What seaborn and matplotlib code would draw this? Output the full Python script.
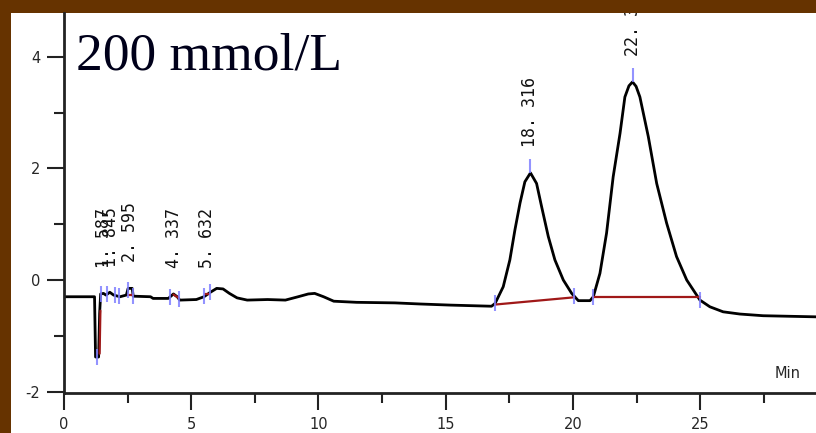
import numpy as np
import matplotlib
matplotlib.use('Agg')
import matplotlib.pyplot as plt
from matplotlib.patches import Rectangle
from matplotlib.path import Path
from matplotlib.ticker import MultipleLocator
import seaborn as sns

# --- Data ---
time = [0.00, 1.20, 1.24, 1.36, 1.40, 1.44, 1.55, 1.65, 1.80, 1.95, 2.20, 2.45, 2.52, 2.68,
        2.72, 3.40, 3.50, 4.10, 4.30, 4.45, 4.55, 5.20, 5.50, 5.75, 6.00, 6.25, 6.50, 6.80,
        7.20, 8.00, 8.70, 9.20, 9.60, 9.85, 10.20, 10.60, 11.50, 13.00, 14.00, 15.20, 16.80,
        16.94, 17.26, 17.52, 17.72, 17.92, 18.11, 18.33, 18.57, 18.77, 19.03, 19.29, 19.62,
        19.95, 20.21, 20.67, 20.80, 21.06, 21.32, 21.58, 21.85, 22.04, 22.20, 22.34, 22.48,
        22.63, 22.96, 23.29, 23.68, 24.07, 24.47, 24.99, 25.38, 25.90, 26.56, 27.47, 28.50,
        29.55]
signal = [-0.30, -0.30, -1.38, -1.38, -0.60, -0.25, -0.24, -0.27, -0.22, -0.27, -0.30, -0.27,
          -0.15, -0.15, -0.29, -0.30, -0.33, -0.33, -0.25, -0.30, -0.36, -0.35, -0.30, -0.22,
          -0.15, -0.16, -0.24, -0.32, -0.36, -0.35, -0.36, -0.30, -0.25, -0.24, -0.30, -0.38,
          -0.40, -0.41, -0.43, -0.45, -0.47, -0.42, -0.12, 0.36, 0.90, 1.38, 1.76, 1.92, 1.73,
          1.31, 0.78, 0.36, 0.00, -0.24, -0.37, -0.37, -0.30, 0.12, 0.84, 1.85, 2.63, 3.28,
          3.48, 3.55, 3.47, 3.28, 2.57, 1.73, 1.02, 0.42, 0.00, -0.36, -0.48, -0.57, -0.61,
          -0.64, -0.65, -0.66]

peak_rt = [1.587, 1.845, 2.595, 4.337, 5.632, 18.316, 22.34]
peak_labels = ['1. 587', '1. 845', '2. 595', '4. 337', '5. 632', '18. 316', '22. 340']
big_peaks = [18.33, 22.34]

# peak start / end marks
bound_t = [1.30, 1.45, 1.70, 2.00, 2.15, 2.50, 2.72, 4.18, 4.52, 5.52, 5.75,
           16.94, 20.05, 20.78, 24.99]

# integration baselines (start t, start v, end t, end v)
base_t0 = [1.40, 2.50, 4.30, 5.55, 16.94, 20.78]
base_v0 = [-1.32, -0.27, -0.26, -0.25, -0.44, -0.31]
base_t1 = [1.43, 2.70, 4.50, 5.70, 20.05, 24.99]
base_v1 = [-0.55, -0.27, -0.32, -0.25, -0.31, -0.31]

BROWN = '#663300'
BLUE = '#8080ff'
RED = '#a01818'

sns.set_style('ticks')
plt.rcParams['font.family'] = ['DejaVu Sans']
plt.rcParams['axes.unicode_minus'] = False

fig = plt.figure(figsize=(8.16, 4.33), dpi=100, facecolor=BROWN)
fig.patches.append(Rectangle((11 / 816, 0), 1, (433 - 13) / 433, transform=fig.transFigure,
                             facecolor='white', edgecolor='none', zorder=-10))
ax = fig.add_axes([64 / 816, 40 / 433, (816 - 64) / 816, (393 - 13) / 433])
ax.set_facecolor('white')

sns.lineplot(x=time, y=signal, ax=ax, color='black', linewidth=2, estimator=None, sort=False)

for t0, v0, t1, v1 in zip(base_t0, base_v0, base_t1, base_v1):
    ax.plot([t0, t1], [v0, v1], color=RED, linewidth=1.6, zorder=3)

bound_v = np.interp(bound_t, time, signal)
ax.plot(bound_t, bound_v, linestyle='none', marker='|', markersize=11,
        markeredgewidth=1.5, color=BLUE, alpha=0.85, zorder=4)

apex_v = np.interp(big_peaks, time, signal)
ax.plot(big_peaks, apex_v, linestyle='none', marker=Path([(0, 0), (0, 1)]), markersize=20,
        markeredgewidth=1.5, color=BLUE, alpha=0.85, zorder=4)

label_v = np.interp(peak_rt, time, signal)
for rt, v, lab in zip(peak_rt, label_v, peak_labels):
    ax.annotate(lab, xy=(rt, v), xytext=(0, 19), textcoords='offset points',
                rotation=90, ha='center', va='bottom', fontsize=12,
                family='DejaVu Sans Mono', color='#111111', annotation_clip=False, clip_on=True)

ax.set_xlim(0, 29.55)
ax.set_ylim(-2.025, 4.785)
ax.xaxis.set_major_locator(MultipleLocator(5))
ax.xaxis.set_minor_locator(MultipleLocator(2.5))
ax.yaxis.set_major_locator(MultipleLocator(2))
ax.yaxis.set_minor_locator(MultipleLocator(1))
ax.tick_params(which='major', length=12, width=1.5, labelsize=10.5, pad=5, color='#222222')
ax.tick_params(which='minor', length=7, width=1.5, color='#222222')
for side in ['top', 'right']:
    ax.spines[side].set_visible(False)
for side in ['left', 'bottom']:
    ax.spines[side].set_linewidth(2)
    ax.spines[side].set_color('#222222')
ax.set_xlabel('')
ax.set_ylabel('')

ax.text(0.945, 0.04, 'Min', transform=ax.transAxes, fontsize=10.5, ha='left', va='baseline')
fig.text(76 / 816, 1 - 70 / 433, '200 mmol/L', fontsize=38.5, family='Liberation Serif',
         color='#00001a', ha='left', va='baseline')

fig.savefig('out.png', dpi=100, facecolor=BROWN)
